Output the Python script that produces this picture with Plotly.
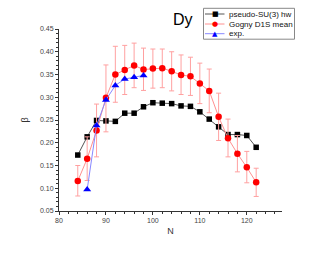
import plotly.graph_objects as go

N_su3 = [84, 86, 88, 90, 92, 94, 96, 98, 100, 102, 104, 106, 108, 110, 112, 114, 116, 118, 120, 122]
beta_su3 = [0.173, 0.213, 0.249, 0.248, 0.247, 0.265, 0.265, 0.279, 0.288, 0.287, 0.286, 0.281, 0.280, 0.268, 0.252, 0.235, 0.218, 0.218, 0.216, 0.190]

N_gogny = [84, 86, 88, 90, 92, 94, 96, 98, 100, 102, 104, 106, 108, 110, 112, 114, 116, 118, 120, 122]
beta_gogny = [0.116, 0.165, 0.227, 0.299, 0.350, 0.360, 0.370, 0.361, 0.363, 0.364, 0.357, 0.349, 0.346, 0.330, 0.314, 0.257, 0.210, 0.176, 0.146, 0.113]
err_plus = [0.034, 0.048, 0.058, 0.072, 0.062, 0.054, 0.049, 0.047, 0.043, 0.042, 0.043, 0.044, 0.042, 0.045, 0.048, 0.052, 0.042, 0.040, 0.035, 0.031]
err_minus = [0.033, 0.048, 0.058, 0.075, 0.061, 0.054, 0.049, 0.046, 0.043, 0.043, 0.043, 0.043, 0.042, 0.044, 0.048, 0.052, 0.041, 0.040, 0.034, 0.031]

N_exp = [86, 88, 90, 92, 94, 96, 98]
beta_exp = [0.097, 0.238, 0.294, 0.326, 0.340, 0.344, 0.348]

series_names = ["pseudo-SU(3) hw", "Gogny D1S mean", "exp."]
line_colors = ["#555555", "#ff9090", "#8888ff"]
marker_colors = ["black", "#ff0000", "#0000ff"]
marker_glyphs = ["■", "●", "▲"]

FONT = "Arial, Liberation Sans, sans-serif"

fig = go.Figure()
fig.add_trace(go.Scatter(
    x=N_su3, y=beta_su3, mode="lines+markers", name=series_names[0],
    line=dict(color=line_colors[0], width=1),
    marker=dict(symbol="square", size=5.5, color=marker_colors[0]),
))
fig.add_trace(go.Scatter(
    x=N_gogny, y=beta_gogny, mode="lines+markers", name=series_names[1],
    line=dict(color=line_colors[1], width=1),
    marker=dict(symbol="circle", size=6.5, color=marker_colors[1]),
    error_y=dict(type="data", symmetric=False, array=err_plus, arrayminus=err_minus,
                 color="#ffa0a0", thickness=1, width=2.5),
))
fig.add_trace(go.Scatter(
    x=N_exp, y=beta_exp, mode="lines+markers", name=series_names[2],
    line=dict(color=line_colors[2], width=1),
    marker=dict(symbol="triangle-up", size=7, color=marker_colors[2]),
))

axis_common = dict(
    showline=True, linecolor="#333333", linewidth=1, showgrid=False, zeroline=False,
    ticks="outside", ticklen=3, tickcolor="#333333",
    tickfont=dict(family=FONT, size=7, color="#444444"),
    minor=dict(ticks="outside", ticklen=2, tickcolor="#333333"),
    mirror=False,
)

L, R, T, B = 59, 45, 29, 42
pw = 327 - L - R
ph = 253 - T - B


def px_x(p):
    return (p - L) / pw


def px_y(p):
    return (T + ph - p) / ph


fig.update_layout(
    width=327, height=253,
    margin=dict(l=L, r=R, t=T, b=B, autoexpand=False),
    paper_bgcolor="white", plot_bgcolor="white",
    font=dict(family=FONT, size=8, color="#333333"),
    xaxis=dict(range=[80, 127.5], dtick=10, tick0=80,
               title=dict(text="N", font=dict(size=9, color="#333333"), standoff=4), **axis_common),
    yaxis=dict(range=[0.05, 0.45], dtick=0.05, tick0=0.05, tickformat=".2f",
               title=dict(text="β", font=dict(size=9, color="#333333"), standoff=9), **axis_common),
    showlegend=False,
)

# legend box drawn manually (compact, like the original)
fig.add_shape(type="rect", xref="paper", yref="paper",
              x0=px_x(203.5), x1=px_x(294.5), y0=px_y(39.2), y1=px_y(8.3),
              line=dict(color="#888888", width=1), fillcolor="white", layer="above")
rows = [14.0, 24.0, 33.7]
for name, lc, mc, g, r in zip(series_names, line_colors, marker_colors, marker_glyphs, rows):
    fig.add_shape(type="line", xref="paper", yref="paper",
                  x0=px_x(205), x1=px_x(224.5), y0=px_y(r), y1=px_y(r),
                  line=dict(color=lc, width=1), layer="above")
    fig.add_annotation(text=g, xref="paper", yref="paper", x=px_x(215), y=px_y(r),
                       showarrow=False, font=dict(size=7, color=mc, family="DejaVu Sans"),
                       xanchor="center", yanchor="middle")
    fig.add_annotation(text=name, xref="paper", yref="paper", x=px_x(226.5), y=px_y(r),
                       showarrow=False, font=dict(size=8, color="#111111", family=FONT),
                       xanchor="left", yanchor="middle")

fig.add_annotation(text="Dy", xref="paper", yref="paper", x=px_x(183),
                   y=px_y(20), showarrow=False, xanchor="center", yanchor="middle",
                   font=dict(size=16, color="black", family=FONT))

fig.write_html("out.html", config={"displayModeBar": False},
               post_script="document.body.style.margin='0';")
